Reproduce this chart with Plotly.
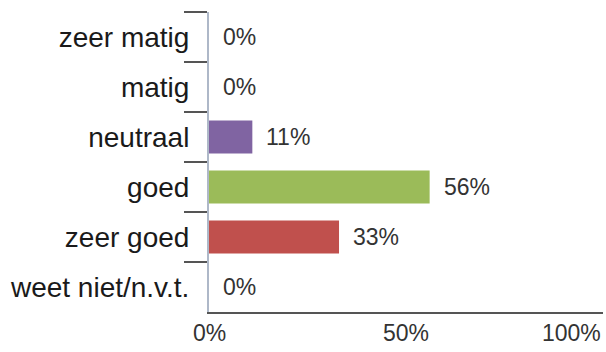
import plotly.graph_objects as go

# Survey answers, top to bottom
categories = ["zeer matig", "matig", "neutraal", "goed", "zeer goed", "weet niet/n.v.t."]
shares = [0.0, 0.0, 0.11, 0.56, 0.33, 0.0]
bar_colors = ["#4F81BD", "#4F81BD", "#8064A2", "#9BBB59", "#C0504D", "#4F81BD"]
x_ticks = [0, 0.5, 1.0]
x_tick_labels = ["0%", "50%", "100%"]

FONT = "Liberation Sans, Arial, sans-serif"

fig = go.Figure(
    go.Bar(
        x=shares,
        y=categories,
        orientation="h",
        marker=dict(color=bar_colors, line=dict(width=0)),
        hoverinfo="skip",
    )
)

# Value labels just past the end of each bar
for cat, val in zip(categories, shares):
    fig.add_annotation(
        x=val, y=cat, text=f"{round(val * 100)}%",
        xanchor="left", yanchor="middle", xshift=12, yshift=0,
        showarrow=False, font=dict(family=FONT, size=23, color="#333333"),
    )

# x tick labels, the last one kept inside the canvas
for v, lab in zip(x_ticks, x_tick_labels):
    fig.add_annotation(
        x=v, y=0, xref="x", yref="paper", text=lab,
        xanchor="right" if v == x_ticks[-1] else "center",
        yanchor="top", yshift=-6, showarrow=False,
        font=dict(family=FONT, size=23, color="#333333"),
    )

fig.update_layout(
    width=606, height=352,
    margin=dict(l=209, r=3, t=12, b=40),
    paper_bgcolor="white", plot_bgcolor="white",
    bargap=0.34,
    showlegend=False,
    xaxis=dict(
        range=[0, 1], tickvals=x_ticks, showticklabels=False,
        showgrid=False, zeroline=False,
        showline=True, linecolor="#555555", linewidth=2,
        ticks="", fixedrange=True,
    ),
    yaxis=dict(
        autorange="reversed",
        showgrid=False, zeroline=False,
        showline=True, linecolor="#AEB8C8", linewidth=2,
        ticks="outside", tickson="boundaries", ticklen=23,
        tickcolor="#555555", tickwidth=2,
        tickfont=dict(family=FONT, size=28, color="#1a1a1a"),
        ticklabelstandoff=12,
        fixedrange=True,
    ),
)

fig.write_html("out.html")
